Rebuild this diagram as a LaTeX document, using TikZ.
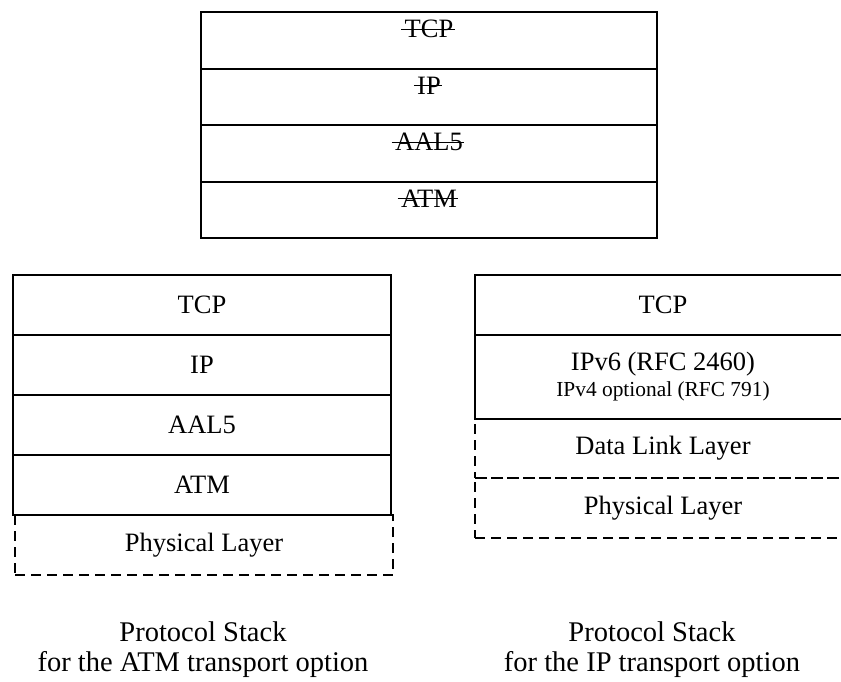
\documentclass[tikz,border=0pt]{standalone}
\usepackage{fontspec}
\setmainfont{Liberation Serif}
\usetikzlibrary{positioning}

\tikzset{
    layer/.style={draw, line width=0.65pt, minimum width=189pt, minimum height=30pt,
        inner sep=0pt, outer sep=0pt, anchor=north, font=\fontsize{13.25}{15}\selectfont},
    oldlayer/.style={draw, line width=1pt, minimum width=228pt, minimum height=28.25pt,
        inner sep=0pt, outer sep=0pt, anchor=north},
    struck/.style={inner sep=0pt, anchor=north, font=\fontsize{13.25}{15}\selectfont},
    strikeline/.style={line width=0.6pt, shorten <=-1.5pt, shorten >=-0.5pt},
    optlayer/.style={layer, line width=1pt, dash pattern=on 5pt off 3pt},
    stackcap/.style={align=center, inner sep=0pt, font=\fontsize{14.25}{15}\selectfont}
}

\begin{document}
\begin{tikzpicture}[x=0.5pt, y=-0.5pt]
    \useasboundingbox (0,0) rectangle (841,681);
    \clip (0,0) rectangle (841,681);

    % old stack (struck out)
    \node[oldlayer] (oldtcp) at (429,12) {};
    \node[oldlayer, below=0pt of oldtcp] (oldip) {};
    \node[oldlayer, below=0pt of oldip] (oldaal) {};
    \node[oldlayer, below=0pt of oldaal] (oldatm) {};
    \node[struck, below=4pt of oldtcp.north] (oldtcptxt) {TCP};
    \node[struck, below=4pt of oldip.north] (oldiptxt) {IP};
    \node[struck, below=4pt of oldaal.north] (oldaaltxt) {AAL5};
    \node[struck, below=4pt of oldatm.north] (oldatmtxt) {ATM};
    \foreach \t in {oldtcptxt,oldiptxt,oldaaltxt,oldatmtxt}
        \draw[strikeline] (\t.west) -- (\t.east);

    % ATM transport option
    \node[layer] (atmtcp) at (202,275) {TCP};
    \node[layer, below=0pt of atmtcp] (atmip) {IP};
    \node[layer, below=0pt of atmip] (atmaal) {AAL5};
    \node[layer, below=0pt of atmaal] (atmatm) {ATM};
    \node[optlayer, below=0pt of atmatm, xshift=1pt] (atmphy) {Physical Layer};
    \node[stackcap] (atmcap) at (203,650) {Protocol Stack\\for the ATM transport option};

    % IP transport option
    \node[layer, minimum width=188pt] (iptcp) at (663,275) {TCP};
    \node[layer, minimum width=188pt, minimum height=42pt, align=center,
        below=0pt of iptcp] (ipv6) {IPv6 (RFC 2460)\\[-2pt]{\fontsize{10.7}{12}\selectfont IPv4 optional (RFC 791)}};
    \node[optlayer, minimum width=188pt, minimum height=29.5pt, below=0pt of ipv6] (iplink) {Data Link Layer};
    \node[optlayer, minimum width=188pt, below=0pt of iplink] (ipphy) {Physical Layer};
    \node[stackcap] (ipcap) at (652,650) {Protocol Stack\\for the IP transport option};
\end{tikzpicture}
\end{document}
